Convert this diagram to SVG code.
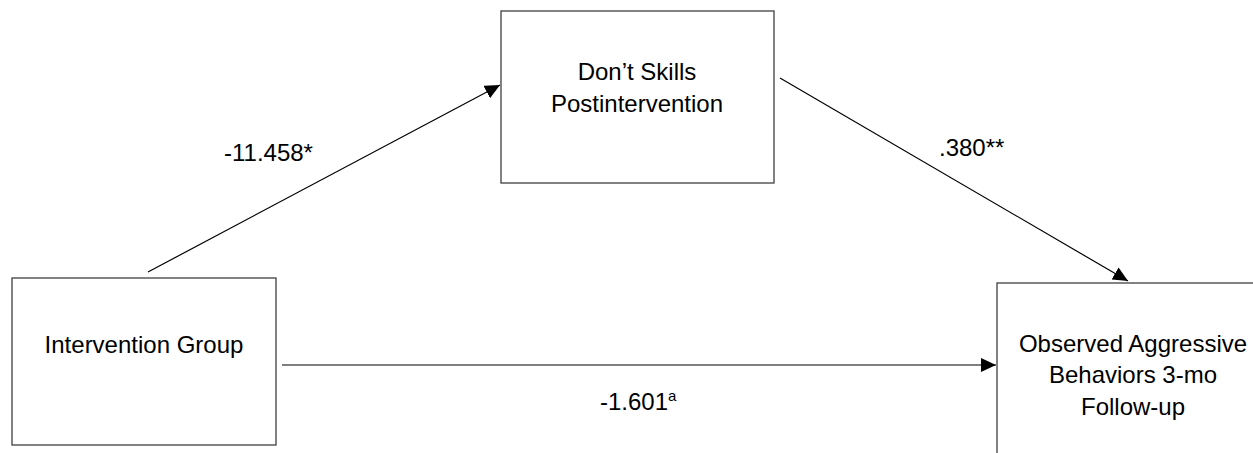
<svg xmlns="http://www.w3.org/2000/svg" width="1253" height="453" viewBox="0 0 1253 453">
<style>
.box{fill:#fff;stroke:#404040;stroke-width:1.3}
.t{font-family:"Liberation Sans",Arial,sans-serif;font-size:24px;fill:#000;text-anchor:middle}
.lbl{font-family:"Liberation Sans",Arial,sans-serif;font-size:24px;fill:#000}
.c{stroke:#000;stroke-width:1.2;fill:none;marker-end:url(#ah)}
</style>
<defs>
<marker id="ah" markerUnits="userSpaceOnUse" markerWidth="16" markerHeight="14" refX="15" refY="7" orient="auto">
<path d="M0,0 L15,7 L0,14 Z" fill="#000"/>
</marker>
</defs>
<rect width="1253" height="453" fill="#fff"/>
<g id="connectors">
<line class="c" x1="148" y1="272" x2="500" y2="85"/>
<line class="c" x1="780" y1="78" x2="1128" y2="281"/>
<line class="c" x1="282" y1="365" x2="996" y2="365"/>
<text class="lbl" x="224" y="161">-11.458*</text>
<text class="lbl" x="939" y="156">.380**</text>
<text class="lbl" x="600" y="410">-1.601<tspan font-size="15" dy="-9">a</tspan></text>
</g>
<g id="mediator">
<rect class="box" x="501" y="11" width="273" height="172"/>
<text class="t" x="637" y="80">Don’t Skills</text>
<text class="t" x="637" y="112">Postintervention</text>
</g>
<g id="intervention">
<rect class="box" x="12" y="278" width="264" height="167"/>
<text class="t" x="144" y="353">Intervention Group</text>
</g>
<g id="outcome">
<rect class="box" x="997" y="283" width="280" height="200"/>
<text class="t" x="1133" y="352">Observed Aggressive</text>
<text class="t" x="1133" y="383">Behaviors 3-mo</text>
<text class="t" x="1133" y="415">Follow-up</text>
</g>
</svg>
